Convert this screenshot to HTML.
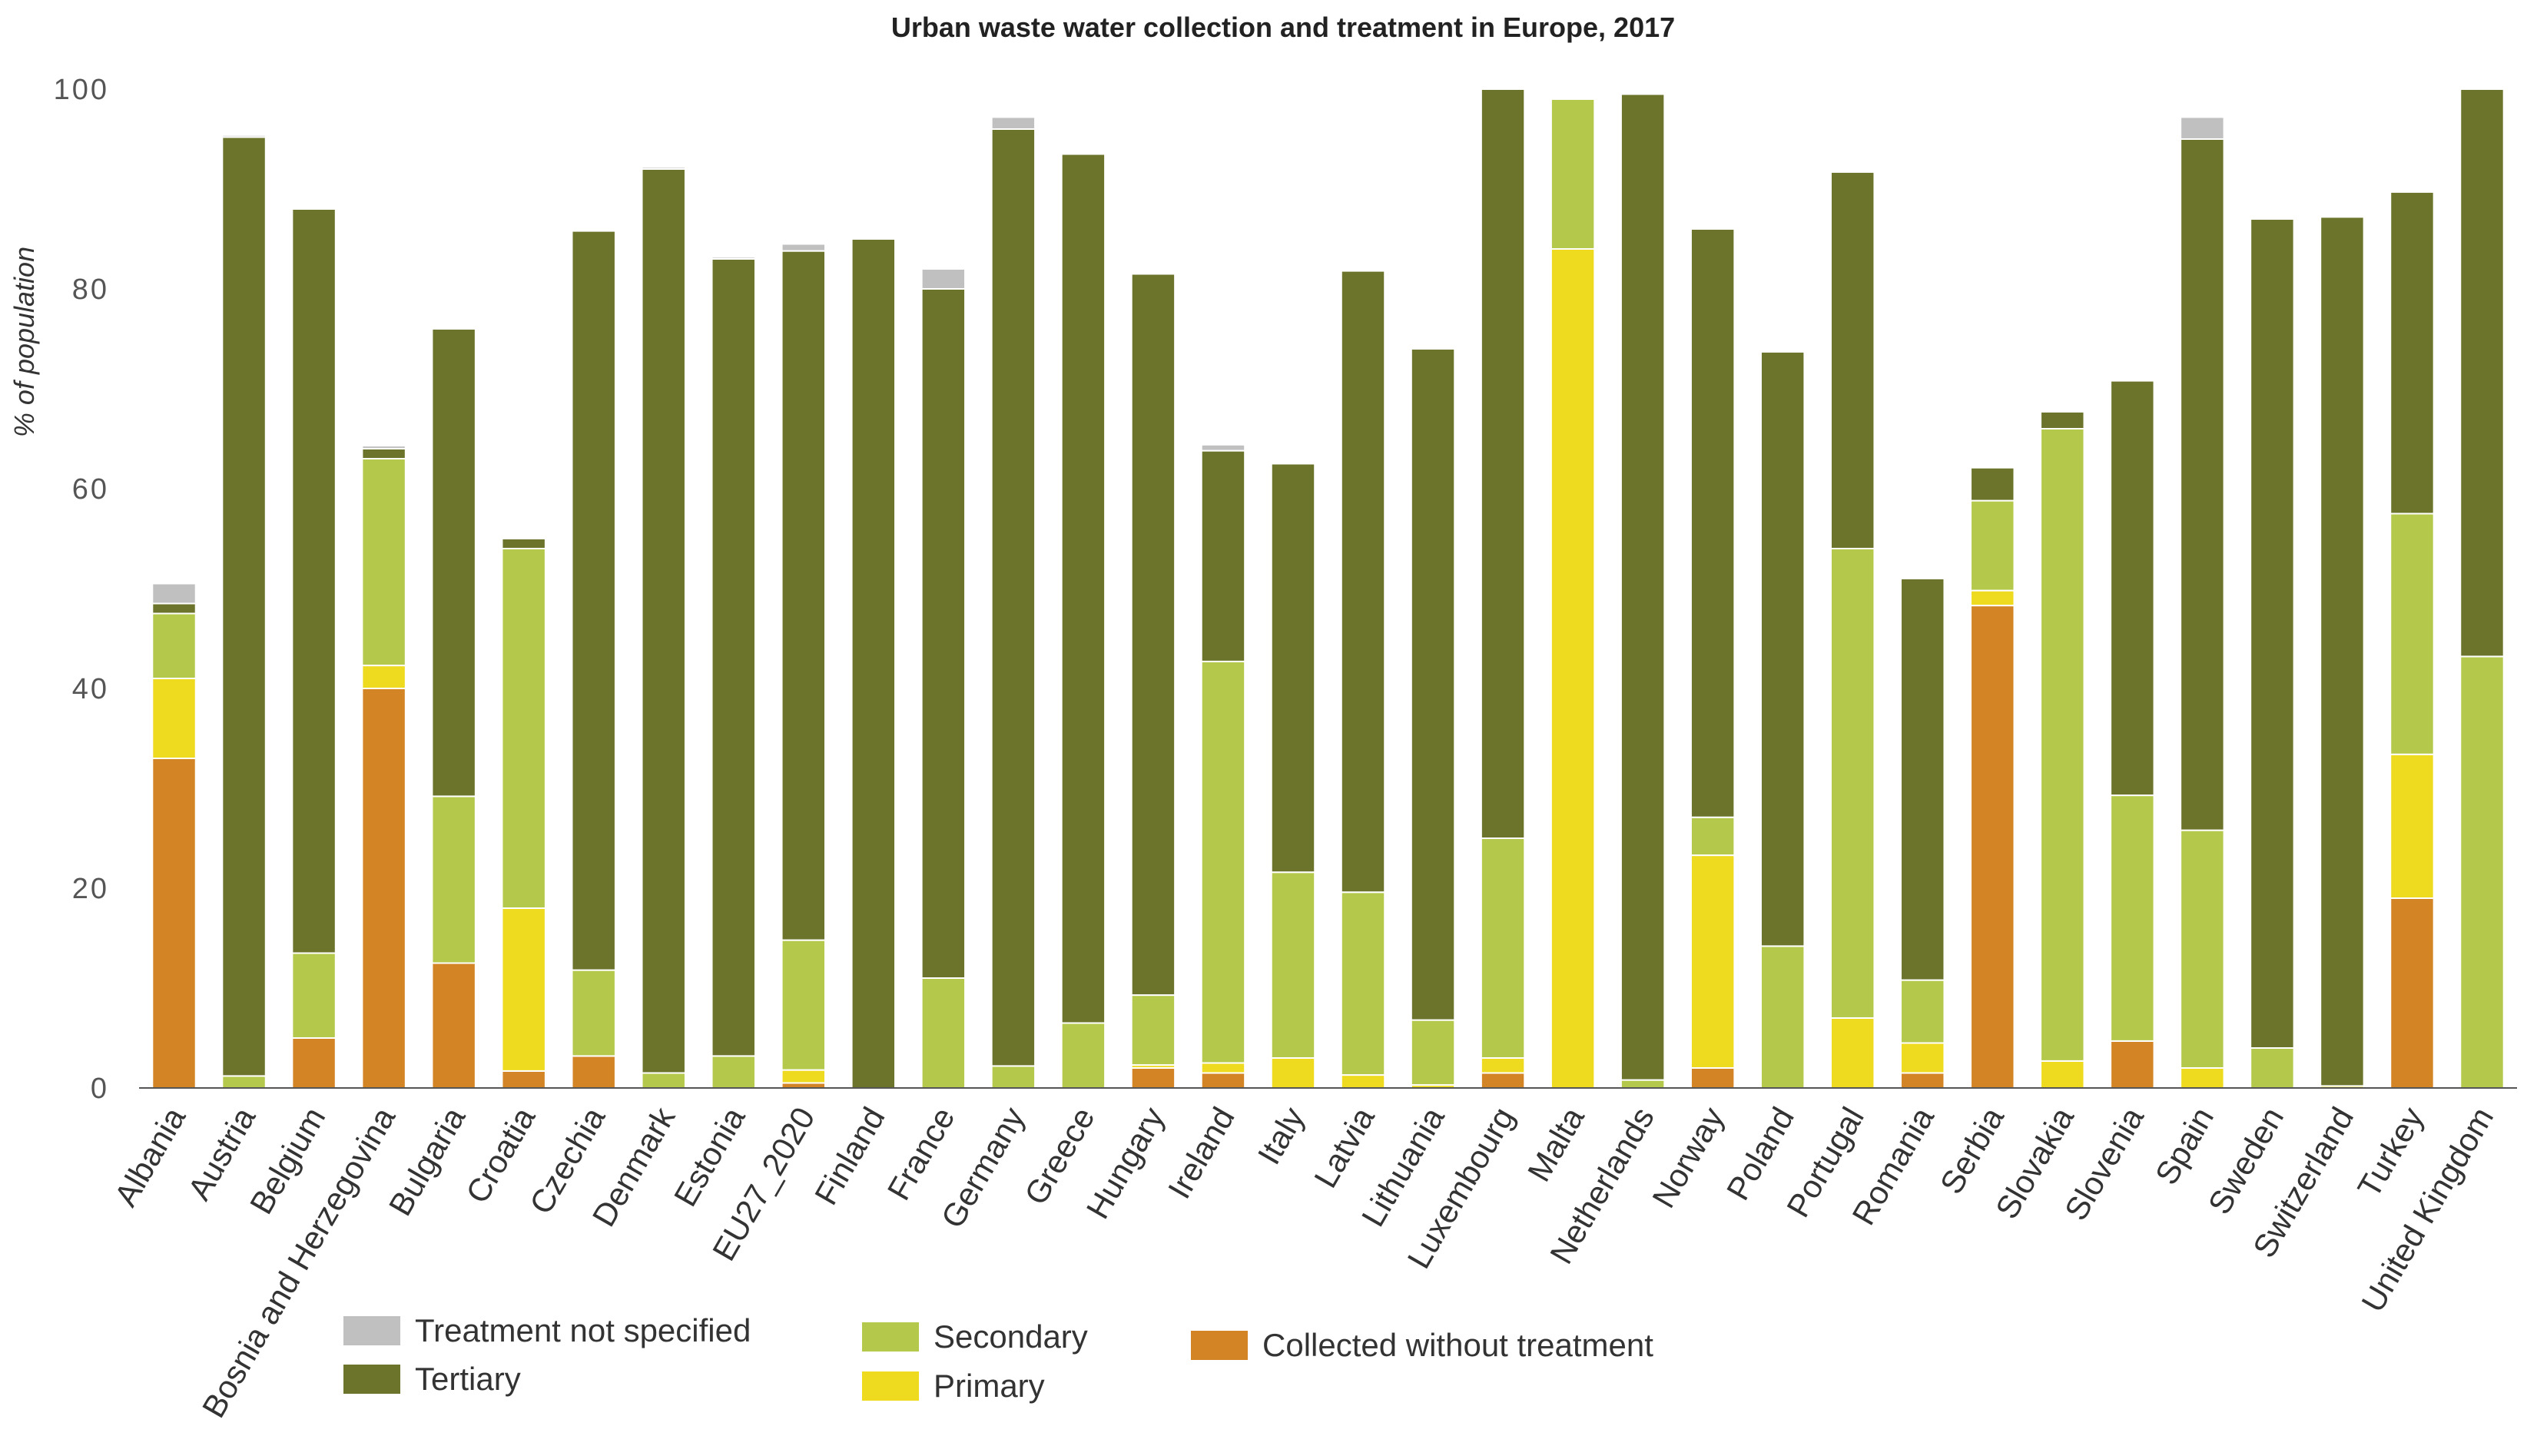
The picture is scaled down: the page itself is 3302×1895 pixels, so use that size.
<!DOCTYPE html>
<html><head><meta charset="utf-8"><style>
html,body{margin:0;padding:0;background:#fff;}
svg{display:block;font-family:"Liberation Sans","DejaVu Sans",sans-serif;}
</style></head><body>
<svg id="chart" width="3302" height="1895" viewBox="0 0 3302 1895" xmlns="http://www.w3.org/2000/svg">
<text x="1670" y="48" text-anchor="middle" font-size="36" font-weight="bold" fill="#222">Urban waste water collection and treatment in Europe, 2017</text>
<text transform="translate(44,445) rotate(-90)" text-anchor="middle" font-size="36" font-style="italic" fill="#333">% of population</text>
<g id="yaxis"></g>
<g id="bars"></g>
<g id="xaxis"></g>
<g font-size="42" fill="#333">
 <g><rect x="447" y="1713" width="74" height="38" fill="#c0c0c0"/><text x="540" y="1746">Treatment not specified</text></g>
 <g><rect x="447" y="1776" width="74" height="38" fill="#6c742b"/><text x="540" y="1809">Tertiary</text></g>
 <g><rect x="1122" y="1721" width="74" height="38" fill="#b4c94c"/><text x="1215" y="1754">Secondary</text></g>
 <g><rect x="1122" y="1785" width="74" height="38" fill="#eeda1f"/><text x="1215" y="1818">Primary</text></g>
 <g><rect x="1550" y="1732" width="74" height="38" fill="#d38526"/><text x="1643" y="1765">Collected without treatment</text></g>
</g>
</svg>
<script>
const categories=["Albania","Austria","Belgium","Bosnia and Herzegovina","Bulgaria","Croatia","Czechia","Denmark","Estonia","EU27_2020","Finland","France","Germany","Greece","Hungary","Ireland","Italy","Latvia","Lithuania","Luxembourg","Malta","Netherlands","Norway","Poland","Portugal","Romania","Serbia","Slovakia","Slovenia","Spain","Sweden","Switzerland","Turkey","United Kingdom"];
const collected=[33,0,5,40,12.5,1.7,3.2,0,0,0.5,0,0,0,0,2,1.5,0,0,0,1.5,0,0,2,0,0,1.5,48.3,0,4.7,0,0,0,19,0];
const primary=[8,0,0,2.3,0,16.3,0,0,0,1.3,0,0,0,0,0.3,1,3,1.3,0.3,1.5,84,0,21.3,0,7,3,1.5,2.7,0,2,0,0.2,14.4,0];
const secondary=[6.5,1.2,8.5,20.7,16.7,36,8.6,1.5,3.2,13,0,11,2.2,6.5,7,40.2,18.6,18.3,6.5,22,15,0.8,3.8,14.2,47,6.3,9,63.3,24.6,23.8,4,0,24.1,43.2];
const tertiary=[1,94,74.5,1,46.8,1,74,90.5,79.8,69,85,69,93.8,87,72.2,21.1,40.9,62.2,67.2,75,0,98.7,58.9,59.5,37.7,40.2,3.3,1.7,41.5,69.2,83,87,32.2,56.8];
const notSpecified=[2,0.2,0,0.3,0,0,0,0.2,0.2,0.7,0,2,1.2,0,0,0.6,0,0,0,0,0,0,0,0,0,0,0,0,0,2.2,0,0,0,0];
const yTicks=[0,20,40,60,80,100];
const NS="http://www.w3.org/2000/svg";
const x0=181,x1=3276,yBase=1416,yTop=116;
const band=(x1-x0)/categories.length, bw=band*0.62;
const yScale=v=>yBase-(v/100)*(yBase-yTop);
const xScale=i=>x0+band*i+band/2;
function mk(tag,attrs,parent){const e=document.createElementNS(NS,tag);for(const k in attrs)e.setAttribute(k,attrs[k]);parent.appendChild(e);return e;}
const ya=document.getElementById('yaxis');
yTicks.forEach(t=>{const tx=mk('text',{x:142,y:yScale(t)+13,'text-anchor':'end','font-size':38,'letter-spacing':3,fill:'#555'},ya);tx.textContent=t;

});
const series=[{v:collected,c:'#d38526',n:'collected'},{v:primary,c:'#eeda1f',n:'primary'},{v:secondary,c:'#b4c94c',n:'secondary'},{v:tertiary,c:'#6c742b',n:'tertiary'},{v:notSpecified,c:'#c0c0c0',n:'not-specified'}];
const bars=document.getElementById('bars');
categories.forEach((cat,i)=>{let acc=0;const cx=xScale(i);
series.forEach(s=>{const v=s.v[i];if(v<=0)return;const yA=yScale(acc+v),yB=yScale(acc);
const r=mk('rect',{x:cx-bw/2,y:yA,width:bw,height:yB-yA,fill:s.c,stroke:'#fff','stroke-width':2},bars);


acc+=v;});});
const xa=document.getElementById('xaxis');
const ax=mk('line',{x1:x0,x2:x1,y1:yBase,y2:yBase,stroke:'#555','stroke-width':2},xa);


categories.forEach((cat,i)=>{const cx=xScale(i)+16,cy=yBase+36;
const t=mk('text',{x:cx,y:cy,'text-anchor':'end','font-size':42,fill:'#333',transform:`rotate(-60 ${cx} ${cy})`},xa);t.textContent=cat;

});
</script>
</body></html>
